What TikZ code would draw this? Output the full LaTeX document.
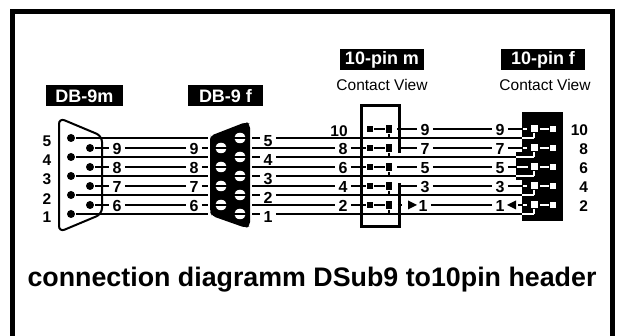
\documentclass[tikz,border=0pt]{standalone}
\usepackage{fontspec}
\setmainfont{Liberation Sans}
\usepackage{tikz}
\usetikzlibrary{shapes.geometric}
\tikzset{
	tag/.style={fill=black,text=white,font=\bfseries\fontsize{18}{18}\selectfont,minimum height=21pt,inner sep=0pt},
	view/.style={font=\fontsize{15.5}{15.5}\selectfont,inner sep=0pt},
	pinno/.style={font=\bfseries\fontsize{15.5}{15.5}\selectfont,inner sep=0pt},
	wireno/.style={font=\bfseries\fontsize{16}{16}\selectfont,inner xsep=2.5pt,inner ysep=0pt,text height=13.5pt,text depth=0pt},
	wirelow/.style={wireno,text height=17.5pt},
	malepin/.style={circle,fill=black,minimum size=8pt,inner sep=0pt},
	femalepin/.style={ellipse,fill=white,minimum width=11.5pt,minimum height=10.5pt,inner sep=0pt},
	headerpin/.style={rectangle,fill=black,minimum width=6.5pt,minimum height=6.5pt,inner sep=0pt},
	socket/.style={rectangle,fill=white,minimum size=7pt,inner sep=0pt},
}
\begin{document}
\begin{tikzpicture}[x=1pt,y=-1pt,line width=2pt]
	\useasboundingbox (0,0) rectangle (619,336);
	\draw[line width=5pt] (12.5,336) -- (12.5,12) -- (612.5,12) -- (612.5,336);
		%
	\node[tag,minimum width=77pt] (T1) at (84.5,96) {DB-9m};
	\node[tag,minimum width=75pt] (T2) at (225.5,96) {DB-9 f};
	\node[tag,minimum width=84pt] (T3) at (382,60) {10-pin m};
	\node[tag,minimum width=84pt] (T4) at (543,60) {10-pin f};
	\node[view] (V3) at (382,85) {Contact View};
	\node[view] (V4) at (545,85) {Contact View};
	\node[font=\bfseries\fontsize{26.8}{26.8}\selectfont,inner sep=0pt] (title) at (312,280) {connection diagramm DSub9 to10pin header};
		%
	\node[pinno] (n5) at (47,141) {5};
	\node[pinno] (n4) at (47,160.5) {4};
	\node[pinno] (n3) at (47,179) {3};
	\node[pinno] (n2) at (47,199) {2};
	\node[pinno] (n1) at (47,217) {1};
		%
	\draw[line width=2pt,rounded corners=6pt] (59,232) -- (59,118) -- (102,136) -- (102,214) -- cycle;
		%
	\node[malepin] (M5) at (71,138) {};
	\node[malepin] (M4) at (71,157) {};
	\node[malepin] (M3) at (71,176) {};
	\node[malepin] (M2) at (71,195) {};
	\node[malepin] (M1) at (71,214) {};
	\node[malepin] (M9) at (90,148) {};
	\node[malepin] (M8) at (90,167) {};
	\node[malepin] (M7) at (90,186) {};
	\node[malepin] (M6) at (90,205) {};
		%
	\node[wireno] (a9) at (117,148) {9};
	\node[wireno] (a8) at (117,167) {8};
	\node[wireno] (a7) at (117,186) {7};
	\node[wireno] (a6) at (117,205) {6};
	\node[wireno] (b9) at (194,148) {9};
	\node[wireno] (b8) at (194,167) {8};
	\node[wireno] (b7) at (194,186) {7};
	\node[wireno] (b6) at (194,205) {6};
		%
	\coordinate (E5) at (208,138);
	\coordinate (E4) at (208,157);
	\coordinate (E3) at (208,176);
	\coordinate (E2) at (208,195);
	\coordinate (E1) at (208,214);
	\coordinate (E9) at (208,148);
	\coordinate (E8) at (208,167);
	\coordinate (E7) at (208,186);
	\coordinate (E6) at (208,205);
		%
	\path[draw]
		(M5) edge (E5)
		(M4) edge (E4)
		(M3) edge (E3)
		(M2) edge (E2)
		(M1) edge (E1)
		(M9) edge (a9)
		(M8) edge (a8)
		(M7) edge (a7)
		(M6) edge (a6)
		(a9) edge (b9)
		(a8) edge (b8)
		(a7) edge (b7)
		(a6) edge (b6)
		(b9) edge (E9)
		(b8) edge (E8)
		(b7) edge (E7)
		(b6) edge (E6);
		%
	\fill[rounded corners=4pt] (210,139) -- (210,136) -- (246,122) -- (250,124) -- (250,226) -- (246,228) -- (212,216) -- (210,212) -- cycle;
		%
	\node[femalepin] (F5) at (240,138) {};
	\node[femalepin] (F4) at (240,157) {};
	\node[femalepin] (F3) at (240,176) {};
	\node[femalepin] (F2) at (240,195) {};
	\node[femalepin] (F1) at (240,214) {};
	\node[femalepin] (F9) at (221,148) {};
	\node[femalepin] (F8) at (221,167) {};
	\node[femalepin] (F7) at (221,186) {};
	\node[femalepin] (F6) at (221,205) {};
	\draw (F5.west) -- (F5.east) (F4.west) -- (F4.east) (F3.west) -- (F3.east) (F2.west) -- (F2.east) (F1.west) -- (F1.east);
	\draw (F9.west) -- (F9.east) (F8.west) -- (F8.east) (F7.west) -- (F7.east) (F6.west) -- (F6.east);
		%
	\coordinate (S5) at (252,138);
	\coordinate (S4) at (252,157);
	\coordinate (S3) at (252,176);
	\coordinate (S2) at (252,195);
	\coordinate (S1) at (252,214);
	\node[wirelow] (c5) at (268,138) {5};
	\node[wirelow] (c4) at (268,157) {4};
	\node[wirelow] (c3) at (268,176) {3};
	\node[wirelow] (c2) at (268,195) {2};
	\node[wirelow] (c1) at (268,214) {1};
		%
	\coordinate (R9) at (252,148);
	\coordinate (R8) at (252,167);
	\coordinate (R6) at (252,186);
	\coordinate (R4) at (252,205);
		%
	\node[pinno] (h10) at (339,131) {10};
	\node[wireno] (h8) at (343,148) {8};
	\node[wireno] (h6) at (343,167) {6};
	\node[wireno] (h4) at (343,186) {4};
	\node[wireno] (h2) at (343,205) {2};
		%
	\node[headerpin] (A10) at (370,129) {};
	\node[headerpin] (A8) at (370,148) {};
	\node[headerpin] (A6) at (370,167) {};
	\node[headerpin] (A4) at (370,186) {};
	\node[headerpin] (A2) at (370,205) {};
	\node[headerpin,minimum height=8pt] (B9) at (389,129) {};
	\node[headerpin,minimum height=8pt] (B7) at (389,148) {};
	\node[headerpin,minimum height=8pt] (B5) at (389,167) {};
	\node[headerpin,minimum height=8pt] (B3) at (389,186) {};
	\node[headerpin,minimum height=8pt] (B1) at (389,205) {};
		%
	\coordinate (W1) at (522,138);
	\coordinate (W2) at (516,157);
	\coordinate (W3) at (516,176);
	\coordinate (W4) at (522,195);
	\coordinate (W5) at (522,214);
	\coordinate (J9) at (389,138);
	\coordinate (J7) at (389,157);
	\coordinate (J5) at (389,176);
	\coordinate (J3) at (389,195);
	\coordinate (J1) at (389,214);
		%
	\node[wireno] (d9) at (425,129) {9};
	\node[wireno] (d7) at (425,148) {7};
	\node[wireno] (d5) at (425,167) {5};
	\node[wireno] (d3) at (425,186) {3};
	\node[wireno] (d1) at (423,205) {1};
	\node[wireno] (e9) at (500,129) {9};
	\node[wireno] (e7) at (500,148) {7};
	\node[wireno] (e5) at (500,167) {5};
	\node[wireno] (e3) at (500,186) {3};
	\node[wireno] (e1) at (500,205) {1};
		%
	\coordinate (Q9) at (397,129);
	\coordinate (Q7) at (399,148);
	\coordinate (Q5) at (397,167);
	\coordinate (Q3) at (399,186);
	\coordinate (Q1) at (397.5,205);
	\coordinate (G9) at (522,129);
	\coordinate (G7) at (522,148);
	\coordinate (G5) at (517,167);
	\coordinate (G3) at (522,186);
	\coordinate (G1) at (522,205);
	\coordinate (U1) at (402,205);
	\coordinate (U2) at (518,205);
		%
	\fill (522,112) rectangle (563,221);
	\fill (516,152) rectangle (522,180);
		%
	\path[draw]
		(c5) edge (W1)
		(c4) edge (W2)
		(c3) edge (W3)
		(c2) edge (W4)
		(c1) edge (W5)
		(S5) edge (c5)
		(S4) edge (c4)
		(S3) edge (c3)
		(S2) edge (c2)
		(S1) edge (c1)
		(R9) edge (h8)
		(R8) edge (h6)
		(R6) edge (h4)
		(R4) edge (h2)
		(h8) edge (A8)
		(h6) edge (A6)
		(h4) edge (A4)
		(h2) edge (A2)
		(A10) edge (B9)
		(A8) edge (B7)
		(A6) edge (B5)
		(A4) edge (B3)
		(A2) edge (B1)
		(B9) edge (J9)
		(B7) edge (J7)
		(B5) edge (J5)
		(B3) edge (J3)
		(B1) edge (J1)
		(Q9) edge (d9)
		(Q7) edge (d7)
		(Q5) edge (d5)
		(Q3) edge (d3)
		(d9) edge (e9)
		(d7) edge (e7)
		(d5) edge (e5)
		(d3) edge (e3)
		(d1) edge (e1)
		(e9) edge (G9)
		(e7) edge (G7)
		(e5) edge (G5)
		(e3) edge (G3)
		(Q1) edge (U1)
		(U2) edge (G1);
	\draw[line width=3pt] (399,153) -- (399,105.5) -- (361,105.5) -- (361,227) -- (399,227) -- (399,183);
	\fill (408,200.5) -- (417,205) -- (408,209.5) -- cycle;
	\fill (516,200.5) -- (507,205) -- (516,209.5) -- cycle;
		%
	\node[socket] (C10) at (534,129) {};
	\node[socket] (C8) at (534,148) {};
	\node[socket] (C6) at (534,167) {};
	\node[socket] (C4) at (534,186) {};
	\node[socket] (C2) at (534,205) {};
	\node[socket,minimum size=6pt] (D10) at (553,129) {};
	\node[socket,minimum size=6pt] (D8) at (553,148) {};
	\node[socket,minimum size=6pt] (D6) at (553,167) {};
	\node[socket,minimum size=6pt] (D4) at (553,186) {};
	\node[socket,minimum size=6pt] (D2) at (553,205) {};
	\coordinate (K10) at (534,138);
	\coordinate (K8) at (534,157);
	\coordinate (K6) at (534,176);
	\coordinate (K4) at (534,195);
	\coordinate (K2) at (534,214);
	\path[draw=white]
		(C10) edge (K10)
		(C8) edge (K8)
		(C6) edge (K6)
		(C4) edge (K4)
		(C2) edge (K2)
		(K10) edge (W1)
		(K8) edge (W2)
		(K6) edge (W3)
		(K4) edge (W4)
		(K2) edge (W5)
		(C10) ++(6,0) edge (D10)
		(C8) ++(6,0) edge (D8)
		(C6) ++(6,0) edge (D6)
		(C4) ++(6,0) edge (D4)
		(C2) ++(6,0) edge (D2)
		(G9) ++(1,0) edge ++(4,0)
		(G7) ++(1,0) edge ++(4,0)
		(G3) ++(1,0) edge ++(4,0)
		(G1) ++(1,0) edge ++(4,0);
	\draw[white] (G5) -- ++(11,0);
		%
	\node[pinno,anchor=east] (r10) at (589,130) {10};
	\node[pinno,anchor=east] (r8) at (589,149) {8};
	\node[pinno,anchor=east] (r6) at (589,168) {6};
	\node[pinno,anchor=east] (r4) at (589,187) {4};
	\node[pinno,anchor=east] (r2) at (589,206) {2};
\end{tikzpicture}
\end{document}
